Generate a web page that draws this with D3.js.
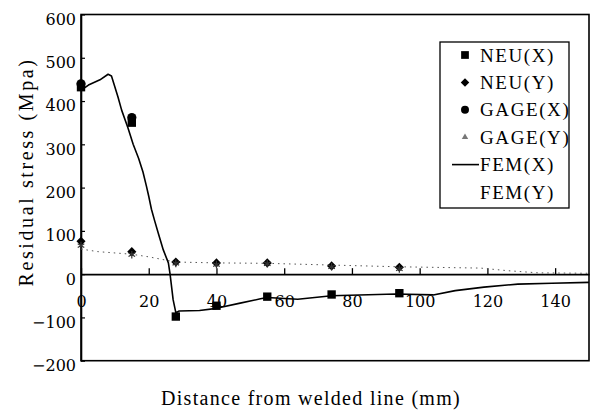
<!DOCTYPE html>
<html>
<head>
<meta charset="utf-8">
<script src="https://cdn.jsdelivr.net/npm/d3@7"></script>
<style>
  body { margin: 0; background: #fff; }
  svg { display: block; }
</style>
</head>
<body>
<div id="chart"></div>
<script>
// distance from welded line (mm) and residual stress (MPa)
const neuXdist = [0, 15, 28, 40, 55, 74, 94];
const neuXval = [432, 350, -98, -73, -52, -47, -44];

const neuYdist = [0, 15, 28, 40, 55, 74, 94];
const neuYval = [76, 52, 28, 26, 26, 19, 16];

const gageXdist = [0, 15];
const gageXval = [440, 362];

const gageYdist = [0, 15, 28, 40, 55, 74, 94];
const gageYval = [66, 45, 25, 22, 24, 17, 12];

const femXdist = [0, 2.2, 5.6, 8, 9, 10.9, 12, 13.9, 15.4, 17, 18.3, 19.3, 20, 20.8, 21.8, 22.8, 24.3, 25.8, 26.3, 27.2, 28, 29, 35, 40, 47, 53, 55, 64, 74, 93, 104, 110.5, 119, 129, 139, 150];
const femXval = [425, 437, 449, 462, 458, 410, 379, 337, 300, 268, 236, 204, 180, 150, 122, 95, 56, 26, 0, -59, -89, -85, -84, -79, -67, -57, -54, -58, -50, -46, -48, -38, -30, -23, -21, -19];

const femYdist = [0, 5, 15, 20, 28, 40, 55, 74, 94, 110, 118, 126, 135, 150];
const femYval = [58, 52, 46, 40, 28, 26, 25, 21, 17, 15, 14, 8, 3, 2];

const xTicks = [0, 20, 40, 60, 80, 100, 120, 140];
const yTicks = [-200, -100, 0, 100, 200, 300, 400, 500, 600];
const legendLabels = ["NEU(X)", "NEU(Y)", "GAGE(X)", "GAGE(Y)", "FEM(X)", "FEM(Y)"];

const width = 596;
const height = 410;
const serif = "Liberation Serif";
const digits = "DejaVu Serif";

const svg = d3.select("#chart").append("svg")
  .attr("width", width)
  .attr("height", height);

svg.append("rect").attr("width", width).attr("height", height).attr("fill", "#fff");

const x = d3.scaleLinear().domain([0, 150]).range([81, 589]);
const y = d3.scaleLinear().domain([-200, 600]).range([360.7, 14.5]);

const pts = (xs, ys) => xs.map((d, i) => ({ x: d, y: ys[i] }));

// frame
svg.append("rect")
  .attr("x", x(0)).attr("y", y(600))
  .attr("width", x(150) - x(0)).attr("height", y(-200) - y(600))
  .attr("fill", "none").attr("stroke", "#000").attr("stroke-width", 1.6);

// x axis on the zero line, ticks pointing up
const xAxis = svg.append("g")
  .attr("transform", `translate(0,${y(0)})`)
  .call(d3.axisBottom(x).tickValues(xTicks).tickSize(-6).tickSizeOuter(0).tickPadding(21));
xAxis.select(".domain").attr("stroke-width", 1.6);
xAxis.selectAll("line").attr("stroke-width", 1.3);
xAxis.selectAll("text")
  .attr("font-family", digits).attr("font-size", 16).attr("fill", "#000");

// y axis, ticks pointing in
const yAxis = svg.append("g")
  .attr("transform", `translate(${x(0)},0)`)
  .call(d3.axisLeft(y).tickValues(yTicks).tickSize(-4).tickSizeOuter(0).tickPadding(5));
yAxis.select(".domain").attr("stroke-width", 1.6);
yAxis.selectAll("line").attr("stroke-width", 1.2);
yAxis.selectAll("text")
  .attr("font-family", digits).attr("font-size", 16).attr("fill", "#000")
  .attr("dy", "0.62em");

// FEM(Y) dotted
svg.append("path")
  .datum(pts(femYdist, femYval))
  .attr("fill", "none").attr("stroke", "#555").attr("stroke-width", 1)
  .attr("stroke-dasharray", "1.5,4")
  .attr("d", d3.line().x(d => x(d.x)).y(d => y(d.y)));

// FEM(X) solid
svg.append("path")
  .datum(pts(femXdist, femXval))
  .attr("fill", "none").attr("stroke", "#000").attr("stroke-width", 1.6)
  .attr("stroke-linejoin", "round")
  .attr("d", d3.line().x(d => x(d.x)).y(d => y(d.y)));

// markers
const sym = (type, size) => d3.symbol().type(type).size(size);

svg.append("g").selectAll("path")
  .data(pts(neuYdist, neuYval)).join("path")
  .attr("transform", d => `translate(${x(d.x)},${y(d.y)}) rotate(45)`)
  .attr("d", sym(d3.symbolSquare, 42)).attr("fill", "#000");

svg.append("g").selectAll("path")
  .data(pts(gageYdist, gageYval)).join("path")
  .attr("transform", d => `translate(${x(d.x)},${y(d.y)})`)
  .attr("d", sym(d3.symbolAsterisk, 40)).attr("fill", "none")
  .attr("stroke", "#333").attr("stroke-width", 1.2);

svg.append("g").selectAll("path")
  .data(pts(neuXdist, neuXval)).join("path")
  .attr("transform", d => `translate(${x(d.x)},${y(d.y)})`)
  .attr("d", sym(d3.symbolSquare, 70)).attr("fill", "#000");

svg.append("g").selectAll("circle")
  .data(pts(gageXdist, gageXval)).join("circle")
  .attr("cx", d => x(d.x)).attr("cy", d => y(d.y))
  .attr("r", 4.6).attr("fill", "#000");

// legend
const legend = svg.append("g");
legend.append("rect")
  .attr("x", 440).attr("y", 42).attr("width", 129).attr("height", 166)
  .attr("fill", "#fff").attr("stroke", "#000").attr("stroke-width", 1.3);

const rowY = i => 55 + i * 27.4;
legend.selectAll("text")
  .data(legendLabels).join("text")
  .attr("x", 480).attr("y", (d, i) => rowY(i))
  .attr("dy", "0.35em")
  .attr("font-family", serif).attr("font-size", 19).attr("letter-spacing", 1.6)
  .text(d => d);

legend.append("path")
  .attr("transform", `translate(465,${rowY(0)})`)
  .attr("d", sym(d3.symbolSquare, 60)).attr("fill", "#000");
legend.append("path")
  .attr("transform", `translate(465,${rowY(1)}) rotate(45)`)
  .attr("d", sym(d3.symbolSquare, 36)).attr("fill", "#000");
legend.append("circle")
  .attr("cx", 465).attr("cy", rowY(2)).attr("r", 4).attr("fill", "#000");
legend.append("path")
  .attr("transform", `translate(465,${rowY(3)})`)
  .attr("d", sym(d3.symbolTriangle, 18)).attr("fill", "#777");
legend.append("line")
  .attr("x1", 452).attr("x2", 479).attr("y1", rowY(4)).attr("y2", rowY(4))
  .attr("stroke", "#000").attr("stroke-width", 1.6);

// axis titles
svg.append("text")
  .attr("x", 311).attr("y", 405)
  .attr("text-anchor", "middle")
  .attr("font-family", serif).attr("font-size", 20).attr("letter-spacing", 1.3)
  .text("Distance from welded line (mm)");

svg.append("text")
  .attr("transform", "translate(33,172) rotate(-90)")
  .attr("text-anchor", "middle")
  .attr("font-family", serif).attr("font-size", 20).attr("letter-spacing", 2.6)
  .text("Residual stress (Mpa)");
</script>
</body>
</html>
